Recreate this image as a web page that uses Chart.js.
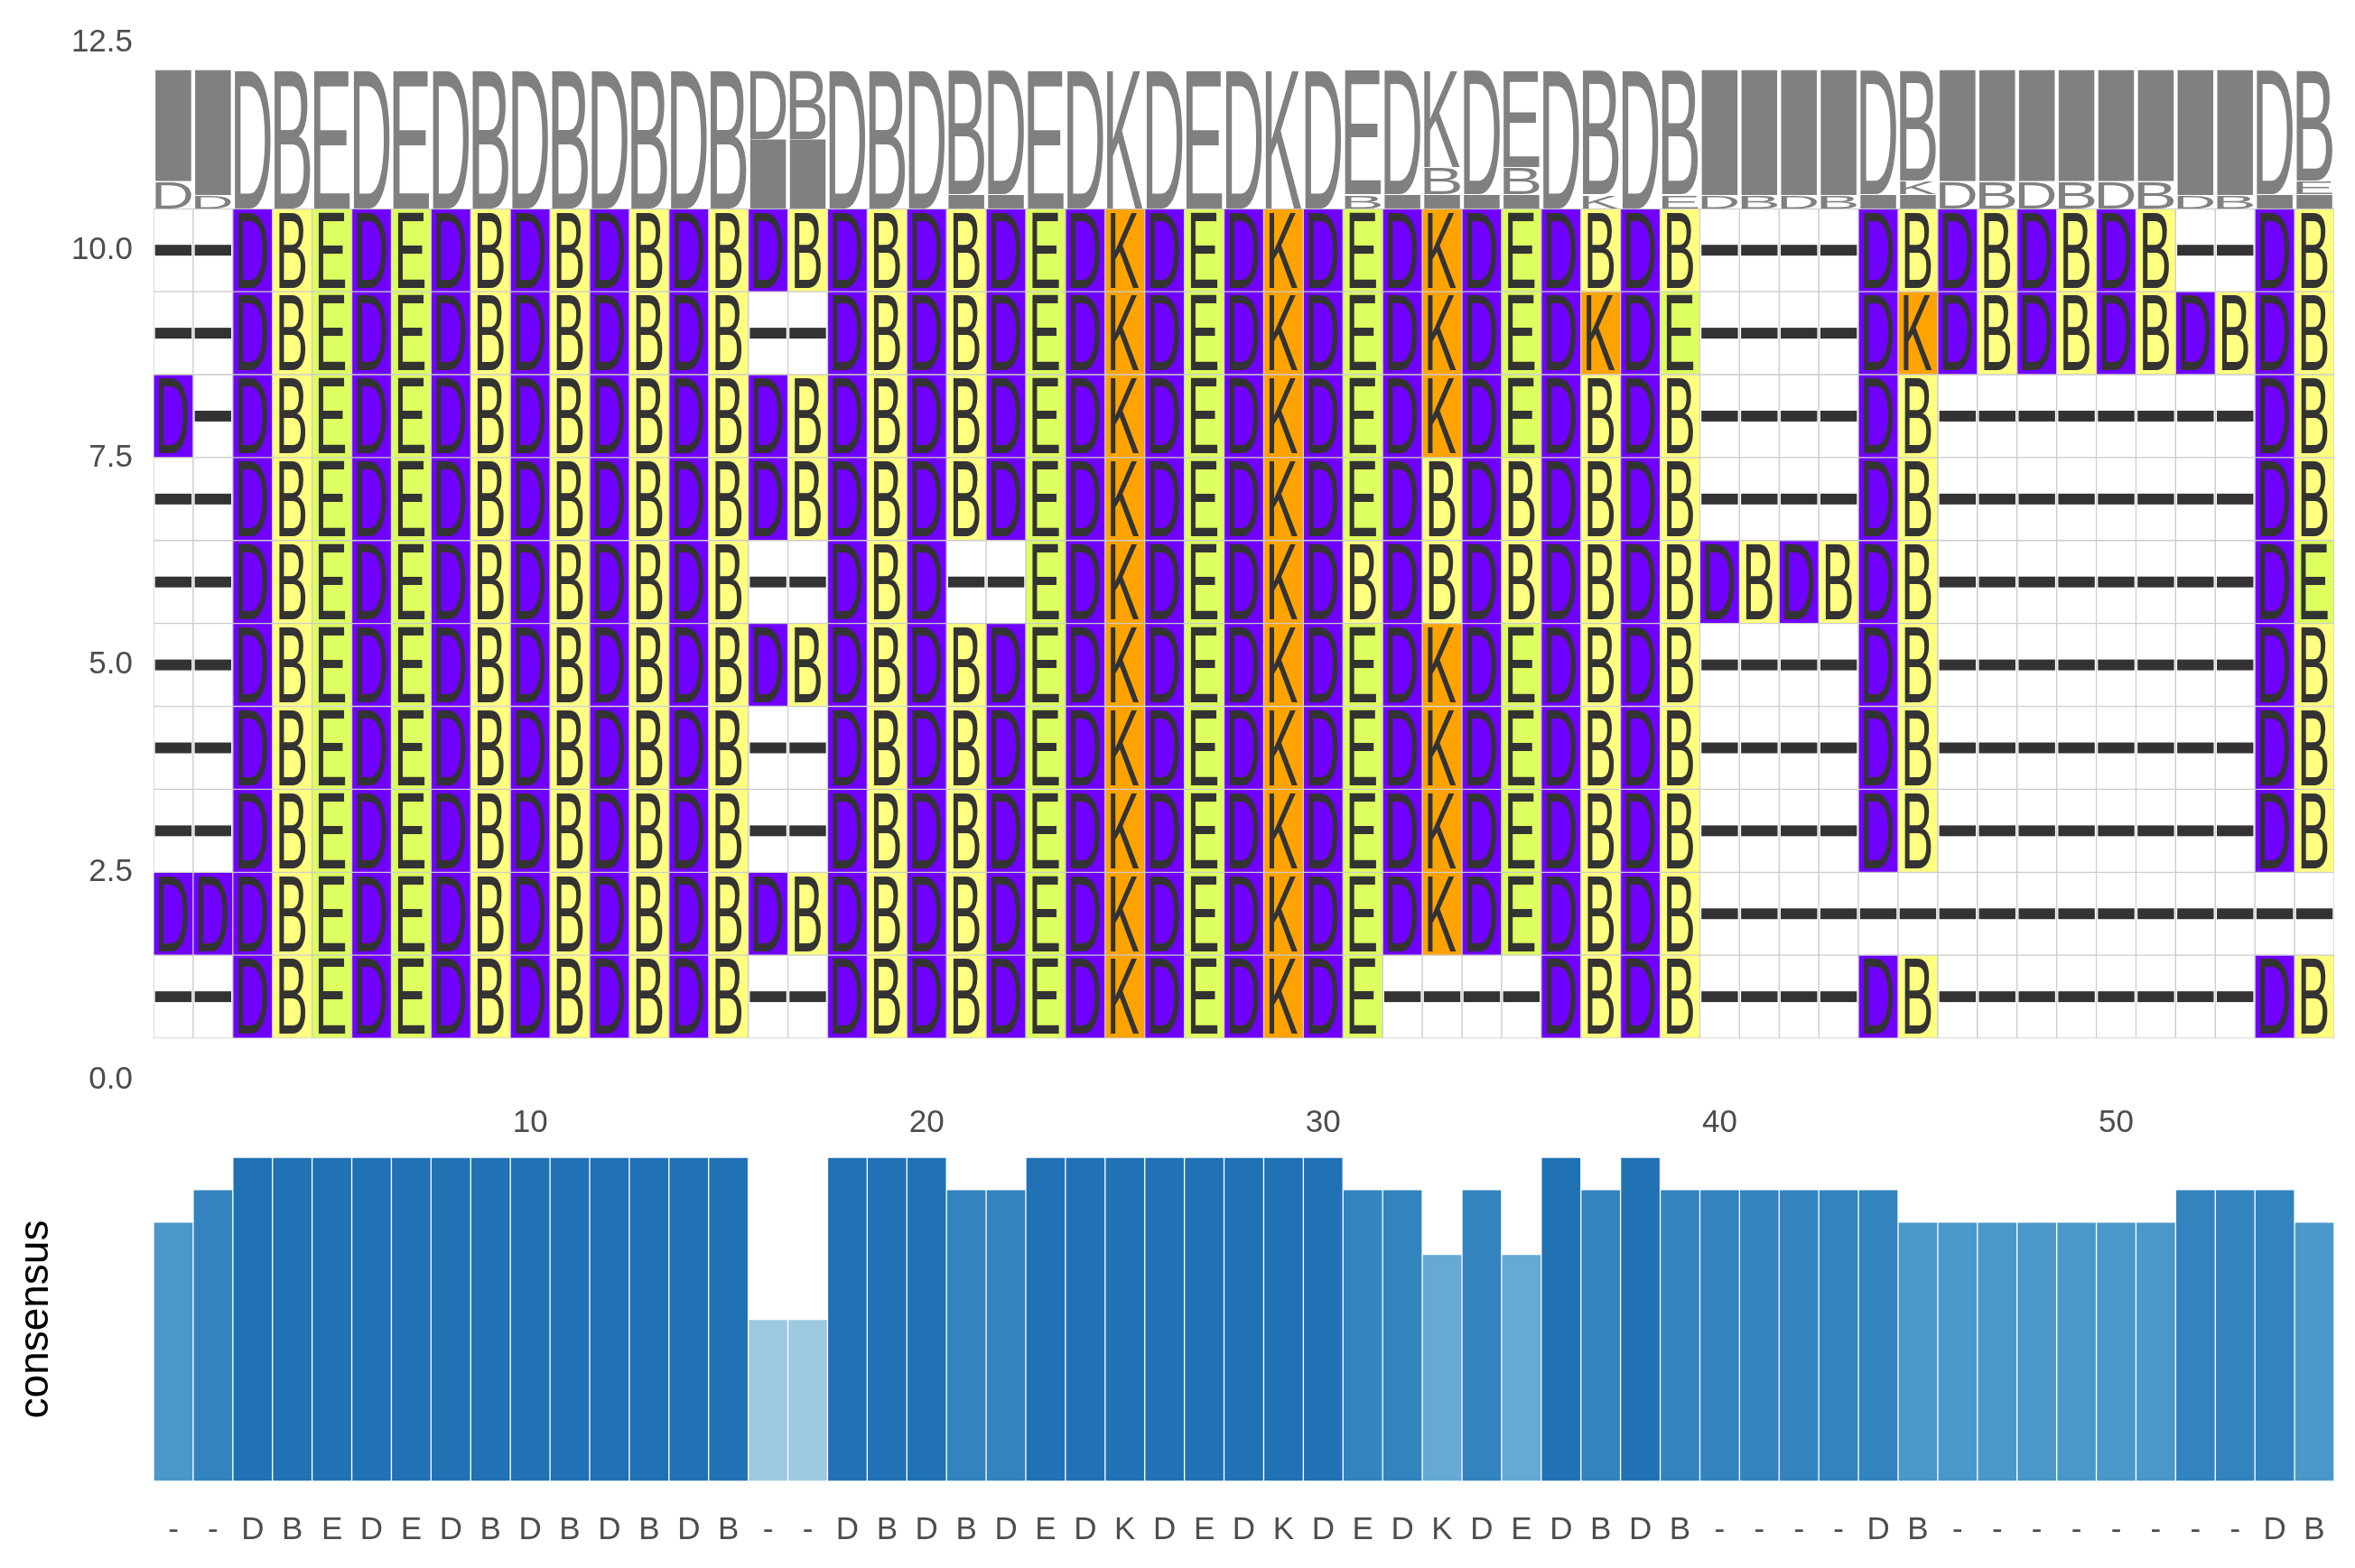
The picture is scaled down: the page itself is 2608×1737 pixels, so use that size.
<!DOCTYPE html>
<html>
<head>
<meta charset="utf-8">
<title>Alignment with sequence logo and consensus</title>
<script src="https://cdn.jsdelivr.net/npm/chart.js@4.4.1/dist/chart.umd.min.js"></script>
<style>
  html, body { margin:0; padding:0; background:#ffffff; }
  #stage { position:relative; width:2608px; height:1737px; overflow:hidden; background:#ffffff; }
  canvas { position:absolute; left:0; }
  #msa { top:0; }
  #cons { top:1210px; }
</style>
</head>
<body>
<div id="stage">
  <canvas id="msa" width="2608" height="1240"></canvas>
  <canvas id="cons" width="2608" height="527"></canvas>
</div>
<script>
// ---------------- data ----------------
const positions = [1,2,3,4,5,6,7,8,9,10,11,12,13,14,15,16,17,18,19,20,21,22,23,24,25,26,27,28,29,30,
  31,32,33,34,35,36,37,38,39,40,41,42,43,44,45,46,47,48,49,50,51,52,53,54,55];

const rowIds = [1,2,3,4,5,6,7,8,9,10];

// one aligned sequence per row; first entry = row 1 (bottom), last = row 10 (top)
const sequences = [
  "--DBEDEDBDBDBDB--DB" + "DBDEDKDEDKDE----DBD" + "B----DB--------DB",
  "DDDBEDEDBDBDBDBDBDB" + "DBDEDKDEDKDEDKDEDBD" + "B----------------",
  "--DBEDEDBDBDBDB--DB" + "DBDEDKDEDKDEDKDEDBD" + "B----DB--------DB",
  "--DBEDEDBDBDBDB--DB" + "DBDEDKDEDKDEDKDEDBD" + "B----DB--------DB",
  "--DBEDEDBDBDBDBDBDB" + "DBDEDKDEDKDEDKDEDBD" + "B----DB--------DB",
  "--DBEDEDBDBDBDB--DB" + "D--EDKDEDKDBDBDBDBD" + "BDBDBDB--------DE",
  "--DBEDEDBDBDBDBDBDB" + "DBDEDKDEDKDEDBDBDBD" + "B----DB--------DB",
  "D-DBEDEDBDBDBDBDBDB" + "DBDEDKDEDKDEDKDEDBD" + "B----DB--------DB",
  "--DBEDEDBDBDBDB--DB" + "DBDEDKDEDKDEDKDEDKD" + "E----DKDBDBDBDBDB",
  "--DBEDEDBDBDBDBDBDB" + "DBDEDKDEDKDEDKDEDBD" + "B----DBDBDBDB--DB"
];

const yTicks = [0, 2.5, 5, 7.5, 10, 12.5];
const positionTicks = [10, 20, 30, 40, 50];

const consensusLabels = ["-","-","D","B","E","D","E","D","B","D","B","D","B","D","B","-","-","D","B",
  "D","B","D","E","D","K","D","E","D","K","D","E","D","K","D","E","D","B","D",
  "B","-","-","-","-","D","B","-","-","-","-","-","-","-","-","D","B"];

const consensusFreq = [0.8,0.9,1,1,1,1,1,1,1,1,1,1,1,1,1,0.5,0.5,1,1,
  1,0.9,0.9,1,1,1,1,1,1,1,1,0.9,0.9,0.7,0.9,0.7,1,0.9,1,
  0.9,0.9,0.9,0.9,0.9,0.9,0.8,0.8,0.8,0.8,0.8,0.8,0.8,0.9,0.9,0.9,0.8];

// ---------------- styles ----------------
const residueColors = { D:'#7000FF', B:'#FFFF80', E:'#DDFF5F', K:'#FFA300', '-':'#FFFFFF' };
const consensusShades = { '1.0':'#2171B5', '0.9':'#3383BE', '0.8':'#4A98C9', '0.7':'#65A9D4', '0.5':'#9ECAE1' };
const LOGO_BASE = 10.5;
const LOGO_HEIGHT = 1.67;
const LETTER_FONT = '"Liberation Sans", Arial, sans-serif';
const TICK_COLOR = '#4D4D4D';
const TICK_FONT = { family: '"Liberation Sans", Arial, sans-serif', size: 35 };

Chart.defaults.font.family = '"Liberation Sans", Arial, sans-serif';
Chart.defaults.animation = false;

// ---------------- datasets: alignment cells ----------------
const cellDatasets = rowIds.map((r, ri) => ({
  kind: 'cell',
  label: 'row ' + r,
  data: positions.map((p, i) => ({ x: p, y: [r - 0.5, r + 0.5], ch: sequences[ri][i] })),
  backgroundColor: positions.map((p, i) => residueColors[sequences[ri][i]]),
  borderColor: '#CBCBCB',
  borderWidth: 1,
  borderSkipped: false,
  grouped: false,
  barPercentage: 1,
  categoryPercentage: 1
}));

// ---------------- datasets: sequence logo (stacked from residue frequencies) ----------------
const logoLayers = [[], [], []];
positions.forEach((p, i) => {
  const counts = {};
  sequences.forEach(s => { counts[s[i]] = (counts[s[i]] || 0) + 1; });
  const entries = Object.entries(counts).sort((a, b) =>
    (a[1] - b[1]) || (a[0] === '-' ? -1 : (b[0] === '-' ? 1 : 0)));
  let y0 = LOGO_BASE;
  entries.forEach(([ch, n], k) => {
    const h = n / sequences.length * LOGO_HEIGHT;
    logoLayers[k].push({ x: p, y: [y0, y0 + h], ch });
    y0 += h;
  });
});
const logoDatasets = logoLayers.map((layer, k) => ({
  kind: 'logo',
  label: 'logo ' + k,
  data: layer,
  backgroundColor: layer.map(d => d.ch === '-' ? '#808080' : 'rgba(0,0,0,0)'),
  borderWidth: 0,
  grouped: false,
  barPercentage: 0.9,
  categoryPercentage: 1
}));

// ---------------- letter drawing plugin ----------------
function glyphBox(ctx, ch, F) {
  ctx.font = F + 'px ' + LETTER_FONT;
  const m = ctx.measureText(ch);
  return { l: m.actualBoundingBoxLeft, r: m.actualBoundingBoxRight,
           a: m.actualBoundingBoxAscent, d: m.actualBoundingBoxDescent };
}

const letterPlugin = {
  id: 'letters',
  afterDatasetsDraw(chart) {
    const ctx = chart.ctx;
    const F = 200;
    const ref = glyphBox(ctx, 'D', F);
    chart.data.datasets.forEach((ds, di) => {
      if (!ds.kind) return;
      const meta = chart.getDatasetMeta(di);
      meta.data.forEach((el, i) => {
        const raw = ds.data[i];
        const p = el.getProps(['x', 'y', 'base', 'width'], true);
        const top = Math.min(p.y, p.base), bottom = Math.max(p.y, p.base);
        const h = bottom - top, w = p.width, cx = p.x, cy = (top + bottom) / 2;
        ctx.save();
        if (ds.kind === 'cell') {
          if (raw.ch === '-') {
            ctx.fillStyle = '#333333';
            const dw = w * 0.92, dh = h * 0.13;
            ctx.fillRect(cx - dw / 2, cy - dh / 2, dw, dh);
          } else {
            const g = glyphBox(ctx, raw.ch, F);
            const sx = (w * 0.73) / (ref.l + ref.r);
            const sy = (h * 0.9) / ref.a;
            const gw = (g.l + g.r) * sx;
            ctx.translate(cx - gw / 2, cy - h * 0.45);
            ctx.scale(sx, sy);
            ctx.fillStyle = '#333333';
            ctx.textAlign = 'left';
            ctx.textBaseline = 'alphabetic';
            ctx.fillText(raw.ch, g.l, ref.a);
          }
        } else if (ds.kind === 'logo' && raw.ch !== '-') {
          const g = glyphBox(ctx, raw.ch, F);
          const bw = w, bh = h - 1;
          ctx.translate(cx - bw / 2, top + 0.5);
          ctx.scale(bw / (g.l + g.r), bh / (g.a + g.d));
          ctx.fillStyle = '#808080';
          ctx.textAlign = 'left';
          ctx.textBaseline = 'alphabetic';
          ctx.fillText(raw.ch, g.l, g.a);
        }
        ctx.restore();
      });
    });
  }
};

// ---------------- top chart: alignment + logo ----------------
new Chart(document.getElementById('msa'), {
  type: 'bar',
  data: { datasets: [...cellDatasets, ...logoDatasets] },
  options: {
    responsive: false,
    devicePixelRatio: 1,
    animation: false,
    layout: { padding: { top: 47.5, right: 23, bottom: 37, left: 0 } },
    plugins: { legend: { display: false }, tooltip: { enabled: false } },
    scales: {
      x: { type: 'linear', min: 0.5, max: 55.5, offset: false, display: false,
           grid: { display: false } },
      y: { type: 'linear', min: 0, max: 12.5,
           grid: { display: false, drawTicks: false },
           border: { display: false },
           afterBuildTicks: s => { s.ticks = yTicks.map(v => ({ value: v })); },
           afterFit: s => { s.width = 170; },
           ticks: { color: TICK_COLOR, font: TICK_FONT, padding: 23,
                    callback: v => Number(v).toFixed(1) } }
    }
  },
  plugins: [letterPlugin]
});

// ---------------- bottom chart: consensus ----------------
new Chart(document.getElementById('cons'), {
  type: 'bar',
  data: {
    labels: consensusLabels,
    datasets: [{
      label: 'consensus',
      data: consensusFreq,
      backgroundColor: consensusFreq.map(v => consensusShades[v.toFixed(1)]),
      borderColor: 'rgba(255,255,255,0.22)',
      borderWidth: 1,
      borderSkipped: false,
      barPercentage: 1,
      categoryPercentage: 1
    }]
  },
  options: {
    responsive: false,
    devicePixelRatio: 1,
    animation: false,
    layout: { padding: { top: 0, right: 23, bottom: 0, left: 0 } },
    plugins: { legend: { display: false }, tooltip: { enabled: false } },
    scales: {
      x: { type: 'category', position: 'bottom',
           grid: { display: false, drawTicks: false }, border: { display: false },
           afterFit: s => { s.height = 96; },
           ticks: { color: TICK_COLOR, font: TICK_FONT, padding: 33, autoSkip: false, maxRotation: 0 } },
      x2: { type: 'linear', position: 'top', min: 0.5, max: 55.5, offset: false,
            grid: { display: false, drawTicks: false }, border: { display: false },
            afterBuildTicks: s => { s.ticks = positionTicks.map(v => ({ value: v })); },
            afterFit: s => { s.height = 72; },
            ticks: { color: TICK_COLOR, font: TICK_FONT, padding: 17 } },
      y: { type: 'linear', min: 0, max: 1,
           grid: { display: false, drawTicks: false }, border: { display: false },
           ticks: { display: false },
           afterFit: s => { s.width = 170; },
           title: { display: true, text: 'consensus', color: '#000000',
                    font: { family: '"Liberation Sans", Arial, sans-serif', size: 46 },
                    padding: { top: 13, bottom: 0 } } }
    }
  }
});
</script>
</body>
</html>
